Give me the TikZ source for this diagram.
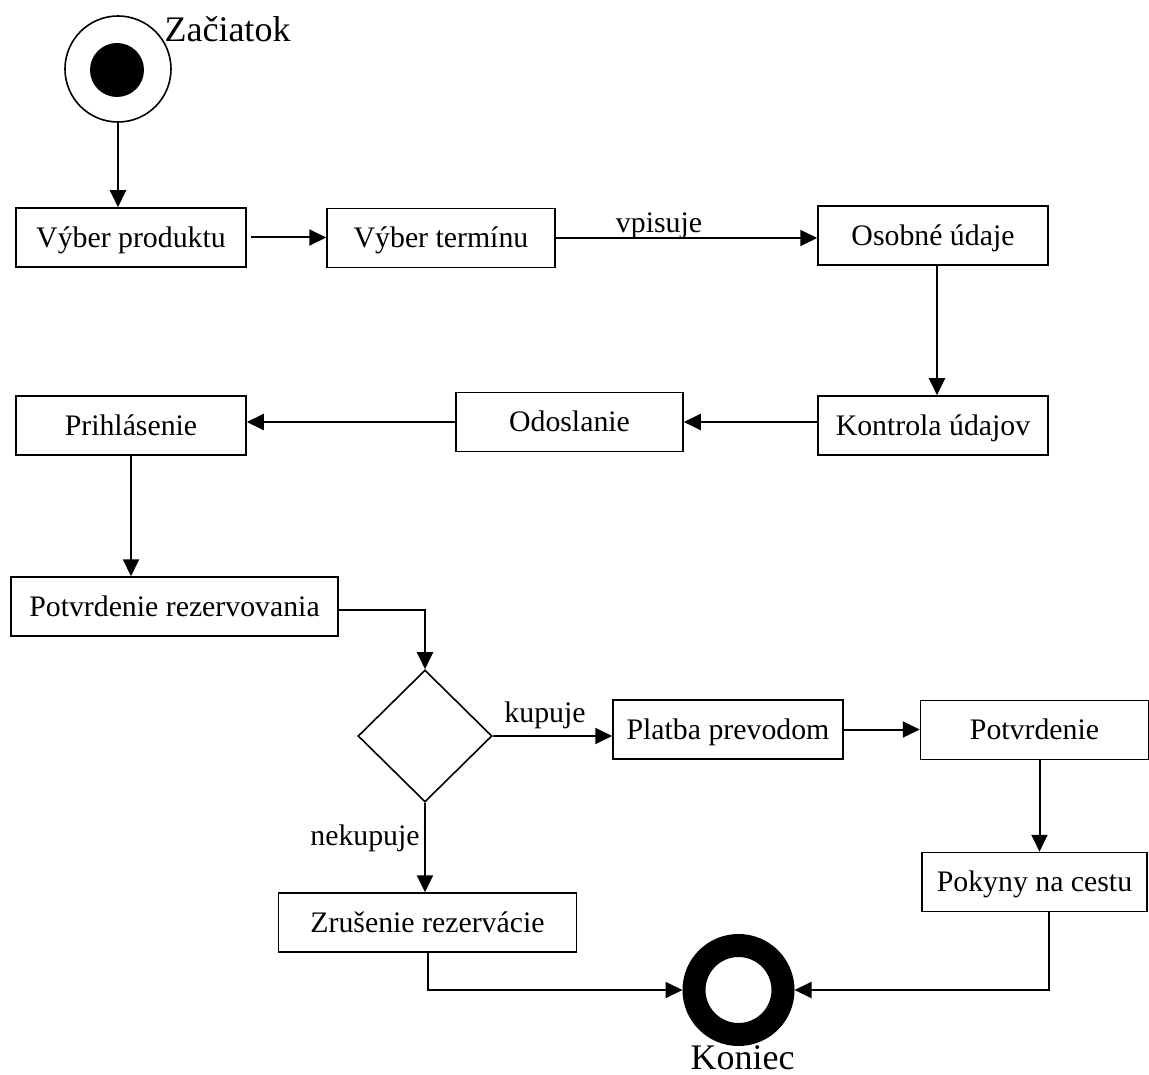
\documentclass[tikz,border=0pt]{standalone}
\usepackage{fontspec}
\setmainfont{Liberation Serif}
\usetikzlibrary{arrows.meta,shapes.geometric,calc}
\begin{document}
\begin{tikzpicture}[x=1pt,y=-1pt,
  box/.style={draw,line width=1.5pt,rectangle,inner sep=0pt,minimum height=59pt,
    font=\fontsize{29.8}{34}\selectfont,text height=19.5pt,text depth=0pt},
  flow/.style={line width=2pt,-{Triangle[length=17pt,width=16pt]}},
  lbl/.style={font=\fontsize{29.8}{34}\selectfont,anchor=base,inner sep=0pt},
  big/.style={font=\fontsize{36}{42}\selectfont,anchor=base,inner sep=0pt}]
\useasboundingbox (0,0) rectangle (1149,1075);
% start
\node[draw,circle,line width=1.6pt,minimum size=106pt,inner sep=0pt] (start) at (118,69) {};
\node[circle,fill=black,minimum size=54pt,inner sep=0pt] (startdot) at (117,70) {};
\node[big] (lstart) at (227.5,42) {Začiatok};
% boxes
\node[box,minimum width=230pt] (b1) at (131,237.5) {Výber produktu};
\node[box,minimum width=228pt] (b2) at (441,238) {Výber termínu};
\node[box,minimum width=230pt] (b3) at (933,235.5) {Osobné údaje};
\node[box,minimum width=230pt] (b4) at (933,425.5) {Kontrola údajov};
\node[box,minimum width=227pt] (b5) at (569.5,422) {Odoslanie};
\node[box,minimum width=230pt] (b6) at (131,425.5) {Prihlásenie};
\node[box,minimum width=327pt] (b7) at (174.5,606.5) {Potvrdenie rezervovania};
\node[draw,diamond,line width=1.6pt,minimum width=134pt,minimum height=132pt,inner sep=0pt] (d) at (425,736) {};
\node[box,minimum width=230pt] (b9) at (728,729.5) {Platba prevodom};
\node[box,minimum width=228pt] (b10) at (1034.5,730) {Potvrdenie};
\node[box,minimum width=225pt] (b11) at (1034.5,882) {Pokyny na cestu};
\node[box,minimum width=298pt] (z) at (427.5,922.5) {Zrušenie rezervácie};
% end
\node[circle,draw,line width=23pt,minimum size=89pt,inner sep=0pt,outer sep=11.5pt] (end) at (738.5,990) {};
\node[big] (lend) at (742.5,1069) {Koniec};
% labels
\node[lbl] (lv) at (659,233) {vpisuje};
\node[lbl] (lk) at (545,722) {kupuje};
\node[lbl] (ln) at (365,845) {nekupuje};
% connectors
\draw[flow] (start.south) -- (start.south |- b1.north);
\draw[flow,shorten <=4pt] (b1.east) -- (b1.east -| b2.west);
\draw[flow] (b2.east) -- (b2.east -| b3.west);
\draw[flow] ([xshift=4pt]b3.south) -- ([xshift=4pt]b3.south |- b4.north);
\draw[flow] (b5.east -| b4.west) -- (b5.east);
\draw[flow] (b5.west) -- (b5.west -| b6.east);
\draw[flow] (b6.south) -- (b6.south |- b7.north);
\draw[flow] ([yshift=-3.5pt]b7.east) -| (d.north);
\draw[flow] (d.east) -- (d.east -| b9.west);
\draw[flow] (b9.east) -- (b9.east -| b10.west);
\draw[flow] ([xshift=5pt]b10.south) -- ([xshift=5pt]b10.south |- b11.north);
\draw[flow] (d.south) -- (d.south |- z.north);
\draw[flow] (z.south) |- (end.west);
\draw[flow] ([xshift=14pt]b11.south) |- (end.east);
\end{tikzpicture}
\end{document}
